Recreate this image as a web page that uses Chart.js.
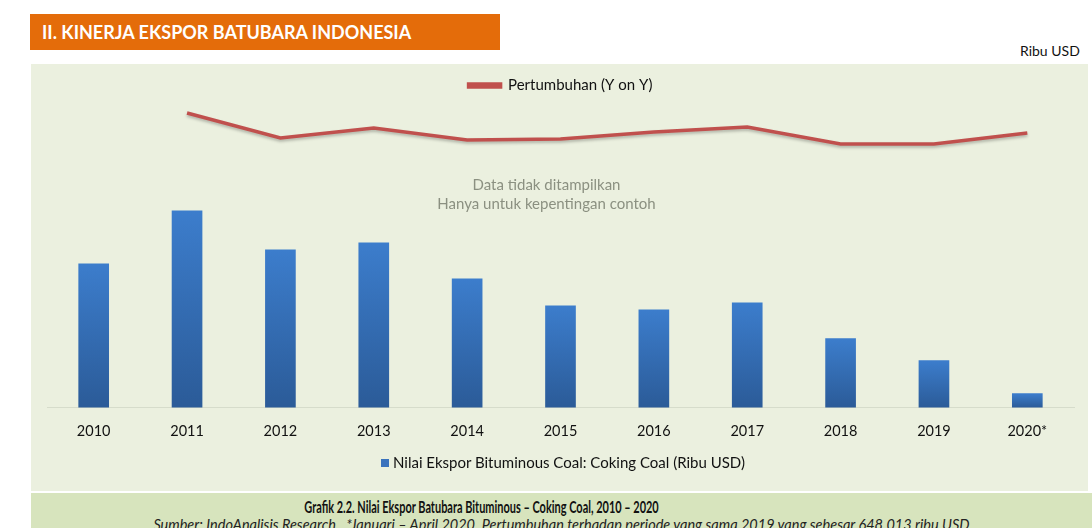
<!DOCTYPE html>
<html>
<head>
<meta charset="utf-8">
<script src="https://cdn.jsdelivr.net/npm/chart.js@4/dist/chart.umd.min.js"></script>
<style>
  body { margin: 0; background: #fff; font-family: Lato, sans-serif; }
  #page { position: relative; width: 1092px; height: 528px; overflow: hidden; }
  .banner { position: absolute; left: 30px; top: 14px; width: 470px; height: 36px; background: #e46c0a; color: #fff;
    font-weight: bold; font-size: 18px; line-height: 37px; padding-left: 12px; box-sizing: border-box; white-space: nowrap; }
  .unit { position: absolute; left: 1020px; top: 42px; font-size: 14px; color: #111; }
  .panel { position: absolute; left: 31px; top: 64px; width: 1057px; height: 427px; background: #ebf0df; }
  .panel canvas { position: absolute; left: 0; top: 0; }
  .note { position: absolute; left: 0; width: 1031px; top: 111px; text-align: center; color: #8b9081; font-size: 15px; line-height: 19px; }
  .legend2 { position: absolute; left: 350px; top: 389px; font-size: 15px; color: #111; white-space: nowrap; }
  .legend2 i { display: inline-block; width: 8px; height: 8px; background: #3a73bd; margin-right: 4px; vertical-align: 1px; }
  .caption { position: absolute; left: 31px; top: 493px; width: 1061px; height: 40px; background: #d7e4bd; text-align: center; }
  .caption .t1 { position: absolute; left: 0; right: 160px; top: 3px; font-weight: bold; font-size: 17px; color: #111; transform: scaleX(0.645); white-space: nowrap; }
  .caption .t2 { position: absolute; left: 0; right: 0; top: 23px; font-style: italic; font-size: 14.5px; color: #222; white-space: nowrap; }
</style>
</head>
<body>
<div id="page">
  <div class="banner">II. KINERJA EKSPOR BATUBARA INDONESIA</div>
  <div class="unit">Ribu USD</div>
  <div class="panel">
    <canvas id="chart" width="1057" height="427"></canvas>
    <div class="note">Data tidak ditampilkan<br>Hanya untuk kepentingan contoh</div>
    <div class="legend2"><i></i>Nilai Ekspor Bituminous Coal: Coking Coal (Ribu USD)</div>
  </div>
  <div class="caption">
    <div class="t1">Grafik 2.2. Nilai Ekspor Batubara Bituminous – Coking Coal, 2010 – 2020</div>
    <div class="t2">Sumber: IndoAnalisis Research . *Januari – April 2020. Pertumbuhan terhadap periode yang sama 2019 yang sebesar 648.013 ribu USD</div>
  </div>
</div>
<script>
const years = ['2010', '2011', '2012', '2013', '2014', '2015', '2016', '2017', '2018', '2019', '2020*']
// nilai ekspor (skala relatif, data asli tidak ditampilkan)
const exportValue = [144, 197, 158, 165, 129, 102, 98, 105, 69, 47, 14]
// pertumbuhan y-on-y (skala relatif)
const growth = [null, 295, 270, 280, 268, 269, 276, 281, 264, 264, 275]

const barLabel = 'Nilai Ekspor Bituminous Coal: Coking Coal (Ribu USD)'
const lineLabel = 'Pertumbuhan (Y on Y)'

function barGradient(context) {
  const chart = context.chart
  const y = chart.scales.y
  if (!y || context.parsed === undefined) return '#3a73bd'
  const top = y.getPixelForValue(context.parsed.y)
  const bottom = y.getPixelForValue(0)
  if (!isFinite(top) || !isFinite(bottom) || top === bottom) return '#3a73bd'
  const g = chart.ctx.createLinearGradient(0, top, 0, bottom)
  g.addColorStop(0, '#3c7dcc')
  g.addColorStop(1, '#2b5b98')
  return g
}

const lineShadow = {
  id: 'lineShadow',
  beforeDatasetDraw(chart, args) {
    if (args.meta.type !== 'line') return
    chart.ctx.save()
    chart.ctx.shadowColor = 'rgba(0,0,0,0.25)'
    chart.ctx.shadowBlur = 3
    chart.ctx.shadowOffsetY = 2
  },
  afterDatasetDraw(chart, args) {
    if (args.meta.type !== 'line') return
    chart.ctx.restore()
  },
}

new Chart(document.getElementById('chart'), {
  type: 'bar',
  data: {
    labels: years,
    datasets: [
      {
        type: 'line',
        label: lineLabel,
        data: growth,
        yAxisID: 'y2',
        borderColor: '#c0504d',
        backgroundColor: '#c0504d',
        borderWidth: 3.5,
        pointRadius: 0,
        tension: 0,
        order: 0,
      },
      {
        label: barLabel,
        data: exportValue,
        yAxisID: 'y',
        backgroundColor: barGradient,
        barThickness: 30,
        order: 1,
      },
    ]
  },
  options: {
    responsive: false,
    animation: false,
    layout: {
      padding: { left: 16, right: 14, top: 4, bottom: 44 },
    },
    plugins: {
      legend: {
        position: 'top',
        labels: {
          filter: item => item.text === lineLabel,
          boxWidth: 32,
          boxHeight: 3,
          color: '#111',
          font: { family: 'Lato', size: 15 },
          padding: 10,
        },
      },
      tooltip: { enabled: false },
    },
    scales: {
      x: {
        grid: { display: false },
        border: { color: '#d6dccb', width: 1 },
        ticks: {
          color: '#111',
          font: { family: 'Lato', size: 14.5 },
          padding: 7,
        },
      },
      y: {
        display: false,
        min: 0,
        max: 305,
      },
      y2: {
        display: false,
        min: 0,
        max: 305,
      },
    },
  },
  plugins: [lineShadow],
})
</script>
</body>
</html>
